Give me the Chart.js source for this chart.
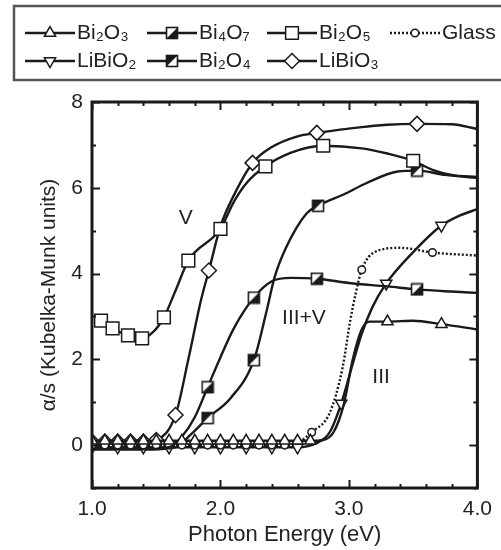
<!DOCTYPE html>
<html>
<head>
<meta charset="utf-8">
<script src="https://cdn.jsdelivr.net/npm/chart.js@4.4.0/dist/chart.umd.min.js"></script>
<style>
  html, body { margin: 0; padding: 0; background: #fff; }
</style>
</head>
<body>
<canvas id="chart" width="501" height="550"></canvas>
<script>
// Each point: [photon energy (eV), alpha/s, 1 = draw a marker here]
const bi2o3 = [
  [1.0, 0.1, 1], [1.1, 0.1, 1], [1.2, 0.1, 1], [1.3, 0.1, 1], [1.4, 0.1, 1], [1.5, 0.1, 1],
  [1.6, 0.1, 1], [1.7, 0.1, 1], [1.8, 0.1, 1], [1.9, 0.1, 1], [2.0, 0.1, 1], [2.1, 0.1, 1],
  [2.2, 0.1, 1], [2.3, 0.1, 1], [2.4, 0.1, 1], [2.5, 0.1, 1], [2.6, 0.1, 1], [2.7, 0.1, 1],
  [2.8, 0.12, 0], [2.88, 0.3, 0], [2.96, 0.95, 0], [3.03, 2.0, 0], [3.1, 2.7, 0], [3.16, 2.88, 0],
  [3.3, 2.88, 1], [3.5, 2.9, 0], [3.72, 2.82, 1], [4.0, 2.7, 0]
];
const bi4o7 = [
  [1.0, -0.1, 0], [1.4, -0.1, 0], [1.6, -0.05, 0], [1.7, 0.2, 0], [1.8, 0.65, 0], [1.9, 1.35, 1],
  [2.0, 2.05, 0], [2.1, 2.7, 0], [2.26, 3.44, 1], [2.4, 3.82, 0], [2.55, 3.9, 0], [2.75, 3.88, 1],
  [3.0, 3.78, 0], [3.3, 3.7, 0], [3.53, 3.63, 1], [3.8, 3.58, 0], [4.0, 3.55, 0]
];
const bi2o5 = [
  [1.07, 2.9, 1], [1.16, 2.72, 1], [1.28, 2.56, 1], [1.39, 2.49, 1], [1.47, 2.62, 0], [1.56, 2.98, 1],
  [1.65, 3.6, 0], [1.75, 4.3, 1], [2.0, 5.04, 1], [2.1, 5.65, 0], [2.2, 6.1, 0], [2.35, 6.5, 1],
  [2.55, 6.82, 0], [2.8, 6.98, 1], [3.1, 6.92, 0], [3.3, 6.8, 0], [3.5, 6.63, 1], [3.65, 6.42, 0],
  [3.8, 6.3, 0], [4.0, 6.25, 0]
];
const glass = [
  [1.0, 0.0, 1], [1.1, 0.0, 1], [1.2, 0.0, 1], [1.3, 0.0, 1], [1.4, 0.0, 1], [1.5, 0.0, 1],
  [1.6, 0.0, 1], [1.7, 0.0, 1], [1.8, 0.0, 1], [1.9, 0.0, 1], [2.0, 0.0, 1], [2.1, 0.0, 1],
  [2.2, 0.0, 1], [2.3, 0.0, 1], [2.4, 0.0, 1], [2.5, 0.0, 1], [2.6, 0.05, 0], [2.71, 0.3, 1],
  [2.85, 0.75, 0], [2.95, 1.8, 0], [3.01, 2.9, 0], [3.05, 3.5, 0], [3.1, 4.09, 1], [3.2, 4.5, 0],
  [3.4, 4.6, 0], [3.65, 4.49, 1], [4.0, 4.42, 0]
];
const libio2 = [
  [1.0, -0.05, 1], [1.2, -0.05, 1], [1.4, -0.05, 1], [1.6, -0.05, 1], [1.8, -0.05, 1], [2.0, -0.05, 1],
  [2.2, -0.05, 1], [2.4, -0.05, 1], [2.6, -0.05, 1], [2.75, 0.05, 0], [2.85, 0.3, 0], [2.94, 0.97, 1],
  [3.03, 1.9, 0], [3.1, 2.6, 0], [3.18, 3.2, 0], [3.29, 3.77, 1], [3.5, 4.5, 0], [3.72, 5.12, 1],
  [3.86, 5.35, 0], [4.0, 5.5, 0]
];
const bi2o4 = [
  [1.0, -0.1, 0], [1.4, -0.1, 0], [1.65, -0.05, 0], [1.77, 0.25, 0], [1.9, 0.63, 1], [2.08, 1.1, 0],
  [2.26, 1.98, 1], [2.36, 3.14, 0], [2.42, 3.9, 0], [2.51, 4.6, 0], [2.67, 5.4, 0], [2.76, 5.58, 1],
  [2.97, 5.86, 0], [3.13, 6.1, 0], [3.38, 6.38, 0], [3.53, 6.4, 1], [3.75, 6.3, 0], [4.0, 6.23, 0]
];
const libio3 = [
  [1.0, 0.08, 1], [1.1, 0.08, 1], [1.2, 0.08, 1], [1.3, 0.08, 1], [1.4, 0.08, 1], [1.5, 0.12, 1],
  [1.65, 0.7, 1], [1.75, 2.0, 0], [1.85, 3.4, 0], [1.91, 4.07, 1], [2.0, 5.1, 0], [2.1, 5.8, 0],
  [2.25, 6.58, 1], [2.4, 6.95, 0], [2.6, 7.2, 0], [2.75, 7.28, 1], [3.0, 7.38, 0], [3.3, 7.47, 0],
  [3.53, 7.49, 1], [3.8, 7.48, 0], [4.0, 7.37, 0]
];

const seriesNames = ["Bi₂O₃", "Bi₄O₇", "Bi₂O₅", "Glass", "LiBiO₂", "Bi₂O₄", "LiBiO₃"];
const xTicks = [1.0, 2.0, 3.0, 4.0];
const yTicks = [0, 2, 4, 6, 8];
const yTitle = "α/s (Kubelka-Munk units)";
const regionLabels = [
  { text: "V", x: 1.73, y: 5.28 },
  { text: "III+V", x: 2.65, y: 2.95 },
  { text: "III", x: 3.25, y: 1.58 }
];

const INK = "#1a1a1a";
const FONT = "'Liberation Sans', Arial, Helvetica, sans-serif";

// Half-filled square markers (diagonal split)
function halfSquare(fillUpperLeft) {
  const c = document.createElement("canvas");
  c.width = 14; c.height = 14;
  const g = c.getContext("2d");
  g.fillStyle = "#fff";
  g.fillRect(1, 1, 12, 12);
  g.fillStyle = INK;
  g.beginPath();
  if (fillUpperLeft) {
    g.moveTo(1, 1); g.lineTo(13, 1); g.lineTo(1, 13);
  } else {
    g.moveTo(13, 1); g.lineTo(13, 13); g.lineTo(1, 13);
  }
  g.closePath();
  g.fill();
  g.strokeStyle = INK;
  g.lineWidth = 1.6;
  g.strokeRect(1.5, 1.5, 11, 11);
  return c;
}

const styles = [
  { pointStyle: "triangle", radius: 6.5, rotation: 0 },
  { pointStyle: halfSquare(false), radius: 7, rotation: 0 },
  { pointStyle: "rect", radius: 9, rotation: 0 },
  { pointStyle: "circle", radius: 3.8, rotation: 0, dash: [2, 2] },
  { pointStyle: "triangle", radius: 6.5, rotation: 180 },
  { pointStyle: halfSquare(true), radius: 7, rotation: 0 },
  { pointStyle: "rectRot", radius: 7.5, rotation: 0 }
];

const allSeries = [bi2o3, bi4o7, bi2o5, glass, libio2, bi2o4, libio3];

const datasets = allSeries.map((pts, i) => ({
  label: seriesNames[i],
  data: pts.map(p => ({ x: p[0], y: p[1] })),
  borderColor: INK,
  borderWidth: 2.4,
  borderDash: styles[i].dash || [],
  cubicInterpolationMode: "monotone",
  pointStyle: styles[i].pointStyle,
  pointRotation: styles[i].rotation,
  pointRadius: pts.map(p => (p[2] ? styles[i].radius : 0)),
  pointBackgroundColor: "#fff",
  pointBorderColor: INK,
  pointBorderWidth: 1.5,
  fill: false
}));

// Frame, inward ticks on all sides, y title, region labels and the boxed legend
const decorPlugin = {
  id: "decor",
  afterDatasetsDraw(chart) {
    const ctx = chart.ctx;
    const { left, right, top, bottom } = chart.chartArea;
    const xs = chart.scales.x, ys = chart.scales.y;
    ctx.save();
    ctx.strokeStyle = INK;
    ctx.lineWidth = 2;
    ctx.beginPath();
    for (let v = 1.0; v <= 4.001; v += 0.2) {
      const px = Math.round(xs.getPixelForValue(v)) + 0.5;
      const major = Math.abs(v - Math.round(v)) < 0.01;
      const len = major ? 8 : 4;
      ctx.moveTo(px, bottom); ctx.lineTo(px, bottom - len);
      ctx.moveTo(px, top); ctx.lineTo(px, top + len);
    }
    for (let v = -1; v <= 8; v += 1) {
      const py = Math.round(ys.getPixelForValue(v)) + 0.5;
      const len = v % 2 === 0 ? 8 : 4;
      ctx.moveTo(left, py); ctx.lineTo(left + len, py);
      ctx.moveTo(right, py); ctx.lineTo(right - len, py);
    }
    ctx.stroke();
    ctx.lineWidth = 3;
    ctx.strokeRect(left, top, right - left, bottom - top);

    ctx.fillStyle = "#222";
    ctx.font = "21px " + FONT;
    ctx.textAlign = "center";
    ctx.textBaseline = "middle";
    regionLabels.forEach(l => {
      ctx.fillText(l.text, xs.getPixelForValue(l.x), ys.getPixelForValue(l.y));
    });

    // rotated y-axis title
    ctx.translate(49, (top + bottom) / 2);
    ctx.rotate(-Math.PI / 2);
    ctx.fillText(yTitle, 0, 0);
    ctx.restore();
  },
  afterDraw(chart) {
    const ctx = chart.ctx;
    const cols = [25, 147, 267, 390, 25, 147, 267];
    const rows = [33, 33, 33, 33, 61, 61, 61];
    ctx.save();
    ctx.strokeStyle = "#555";
    ctx.lineWidth = 2.5;
    ctx.strokeRect(14, 6, 500, 74);
    chart.data.datasets.forEach((ds, i) => {
      const x0 = cols[i], y0 = rows[i];
      ctx.strokeStyle = INK;
      ctx.lineWidth = 2.4;
      ctx.setLineDash(ds.borderDash || []);
      ctx.beginPath();
      ctx.moveTo(x0, y0); ctx.lineTo(x0 + 50, y0);
      ctx.stroke();
      ctx.setLineDash([]);
      ctx.fillStyle = "#fff";
      ctx.strokeStyle = INK;
      ctx.lineWidth = 1.5;
      Chart.helpers.drawPoint(ctx, {
        pointStyle: ds.pointStyle,
        rotation: ds.pointRotation,
        radius: styles[i].radius,
        borderWidth: 1.5
      }, x0 + 25, y0);
      ctx.fillStyle = "#222";
      ctx.font = "21px " + FONT;
      ctx.textAlign = "left";
      ctx.textBaseline = "middle";
      ctx.fillText(ds.label, x0 + 52, y0);
    });
    ctx.restore();
  }
};

new Chart(document.getElementById("chart"), {
  type: "line",
  data: { datasets: datasets },
  plugins: [decorPlugin],
  options: {
    responsive: false,
    animation: false,
    layout: { padding: { top: 102, right: 17, left: 0, bottom: 0 } },
    plugins: {
      legend: { display: false },
      tooltip: { enabled: false }
    },
    scales: {
      x: {
        type: "linear",
        min: 1,
        max: 4,
        afterBuildTicks: s => { s.ticks = xTicks.map(v => ({ value: v })); },
        afterFit: s => { s.height = 62; },
        grid: { display: false, drawTicks: false },
        border: { display: false },
        ticks: {
          padding: 9,
          color: "#222",
          font: { size: 21, family: FONT },
          callback: v => Number(v).toFixed(1)
        },
        title: {
          display: true,
          text: "Photon Energy (eV)",
          color: "#222",
          font: { size: 22, family: FONT },
          padding: { top: 0, bottom: 2 }
        }
      },
      y: {
        type: "linear",
        min: -1,
        max: 8,
        afterBuildTicks: s => { s.ticks = yTicks.map(v => ({ value: v })); },
        afterFit: s => { s.width = 92; },
        grid: { display: false, drawTicks: false },
        border: { display: false },
        ticks: {
          padding: 9,
          color: "#222",
          font: { size: 21, family: FONT }
        },
        title: { display: false }
      }
    }
  }
});
</script>
</body>
</html>
